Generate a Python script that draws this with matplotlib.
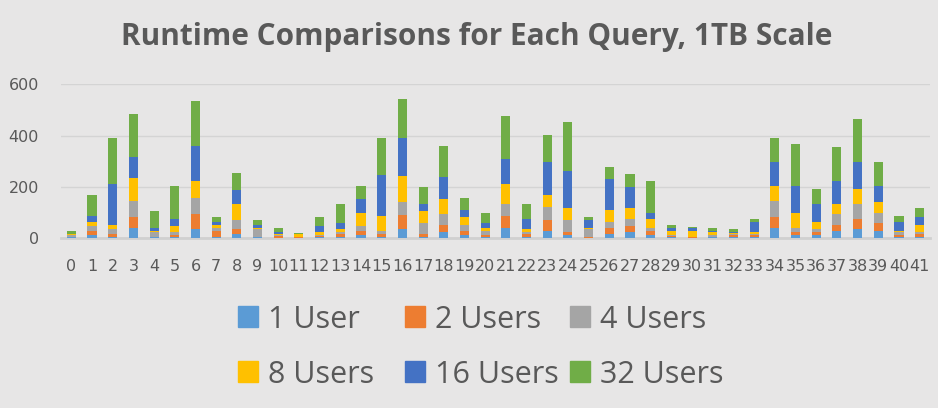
import numpy as np
import matplotlib
matplotlib.use("Agg")
import matplotlib.pyplot as plt
from matplotlib.patches import Rectangle

# data (seconds per query, stacked by user count)
queries = [str(i) for i in range(42)]
series_names = ["1 User", "2 Users", "4 Users", "8 Users", "16 Users", "32 Users"]
colors = ["#5B9BD5", "#ED7D31", "#A5A5A5", "#FFC000", "#4472C4", "#70AD47"]

user1 = [4, 13, 4, 40, 5, 5, 35, 5, 17, 5, 3, 1, 5, 5, 13, 5, 37, 5, 25, 13, 4,
         40, 5, 29, 13, 1, 17, 25, 13, 5, 1, 5, 5, 5, 40, 13, 13, 29, 37, 29, 5, 5]
user2 = [2, 16, 14, 43, 1, 8, 60, 24, 20, 1, 7, 5, 4, 12, 16, 13, 52, 13, 27, 16, 9,
         47, 13, 43, 12, 5, 24, 24, 16, 4, 5, 1, 8, 8, 43, 12, 12, 24, 39, 31, 8, 13]
user4 = [6, 20, 18, 63, 18, 12, 63, 13, 35, 30, 4, 1, 4, 8, 20, 10, 54, 42, 43, 24, 16,
         47, 7, 51, 47, 31, 24, 27, 12, 4, 1, 7, 3, 4, 63, 16, 12, 43, 59, 39, 12, 7]
user8 = [4, 16, 16, 90, 4, 24, 67, 8, 63, 5, 4, 8, 12, 12, 51, 59, 98, 47, 59, 31, 12,
         78, 12, 47, 47, 4, 47, 43, 35, 16, 20, 12, 3, 8, 59, 59, 27, 39, 59, 43, 4, 27]
user16 = [2, 20, 161, 82, 12, 27, 133, 14, 55, 10, 8, 0, 24, 24, 55, 161, 149, 27, 86, 27, 20,
          98, 39, 129, 145, 31, 118, 82, 24, 12, 12, 4, 7, 39, 94, 102, 71, 90, 102, 63, 35, 31]
user32 = [10, 82, 176, 165, 67, 129, 176, 20, 63, 20, 16, 4, 35, 71, 47, 141, 153, 67, 118, 47, 39,
          165, 59, 102, 188, 12, 47, 51, 125, 12, 4, 12, 12, 12, 90, 165, 59, 129, 169, 94, 24, 35]
all_series = [user1, user2, user4, user8, user16, user32]

bg = "#E7E6E6"
txt = "#595959"
plt.rcParams["font.family"] = ["Open Sans", "DejaVu Sans"]

fig = plt.figure(figsize=(9.38, 4.08), dpi=100, facecolor=bg)
ax = fig.add_axes([61 / 938, 1 - 238.3 / 408, (930 - 61) / 938, (238.3 - 84.3) / 408])
ax.set_facecolor(bg)

x = np.arange(len(queries))
bottom = np.zeros(len(queries))
for vals, c in zip(all_series, colors):
    ax.bar(x, vals, width=0.44, bottom=bottom, color=c, zorder=3)
    bottom += np.array(vals)

ax.set_xlim(-0.5, len(queries) - 0.5)
ax.set_ylim(0, 600)
ax.set_yticks([0, 200, 400, 600])
ax.set_xticks(x)
ax.set_xticklabels(queries)
ax.yaxis.grid(True, color="#D4D4D4", linewidth=1, zorder=0)
ax.tick_params(axis="both", length=0, labelsize=11.5, colors=txt)
for lbl in ax.get_xticklabels() + ax.get_yticklabels():
    lbl.set_fontfamily("DejaVu Sans")
ax.tick_params(axis="y", pad=16)
ax.tick_params(axis="x", pad=15)
for s in ["top", "right", "left"]:
    ax.spines[s].set_visible(False)
ax.spines["bottom"].set_color("#D0D0D0")
ax.spines["bottom"].set_linewidth(2)

fig.text(477 / 938, 1 - 37.5 / 408, "Runtime Comparisons for Each Query, 1TB Scale",
         ha="center", va="center", fontsize=21.4, fontweight="bold", color=txt)

# legend laid out like the Excel one: 3 columns x 2 rows
col_x = [238, 405, 570]
row_y = [316, 371.5]
for i, (name, c) in enumerate(zip(series_names, colors)):
    cx = col_x[i % 3]
    cy = row_y[i // 3]
    fig.add_artist(Rectangle((cx / 938, 1 - (cy + 10.5) / 408), 20 / 938, 21 / 408,
                             transform=fig.transFigure, color=c))
    fig.text((cx + 30) / 938, 1 - cy / 408, name, ha="left", va="center_baseline",
             fontsize=22, color=txt)

fig.savefig("out.png", dpi=100, facecolor=bg)
